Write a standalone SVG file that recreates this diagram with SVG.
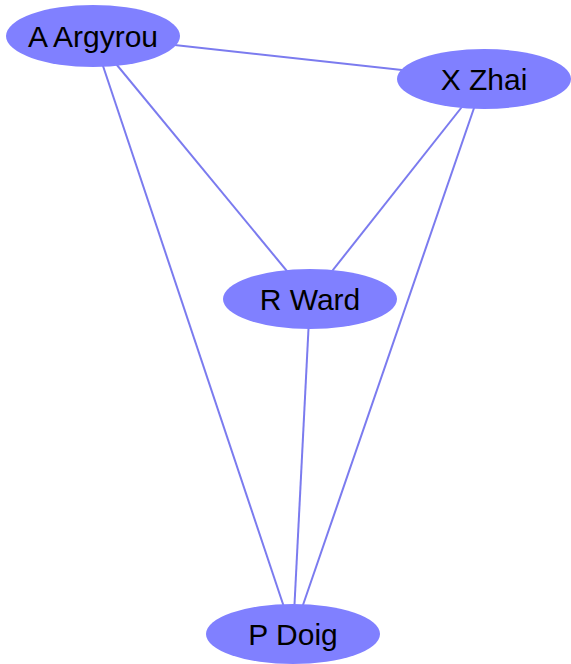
<svg xmlns="http://www.w3.org/2000/svg" width="571" height="664" viewBox="0 0 571 664">
<style>
.edge{stroke:#7b7bef;stroke-width:2;fill:none}
.node ellipse{fill:#8080ff;stroke:none}
.node text{font-family:"Liberation Sans",Arial,sans-serif;font-size:30px;fill:#000;text-anchor:middle;dominant-baseline:central}
</style>
<rect width="571" height="664" fill="#fff"/>
<g id="edges">
<line class="edge" x1="93" y1="36" x2="484" y2="79"/>
<line class="edge" x1="93" y1="36" x2="310" y2="299"/>
<line class="edge" x1="93" y1="36" x2="293" y2="634"/>
<line class="edge" x1="484" y1="79" x2="310" y2="299"/>
<line class="edge" x1="484" y1="79" x2="293" y2="634"/>
<line class="edge" x1="310" y1="299" x2="293" y2="634"/>
</g>
<g id="n-argyrou" class="node"><ellipse cx="93" cy="36" rx="87" ry="31"/><text x="93" y="36">A Argyrou</text></g>
<g id="n-zhai" class="node"><ellipse cx="484" cy="79" rx="87" ry="30"/><text x="484" y="79">X Zhai</text></g>
<g id="n-ward" class="node"><ellipse cx="310" cy="299" rx="87" ry="30"/><text x="310" y="299">R Ward</text></g>
<g id="n-doig" class="node"><ellipse cx="293" cy="634" rx="87" ry="30"/><text x="293" y="634">P Doig</text></g>
</svg>
